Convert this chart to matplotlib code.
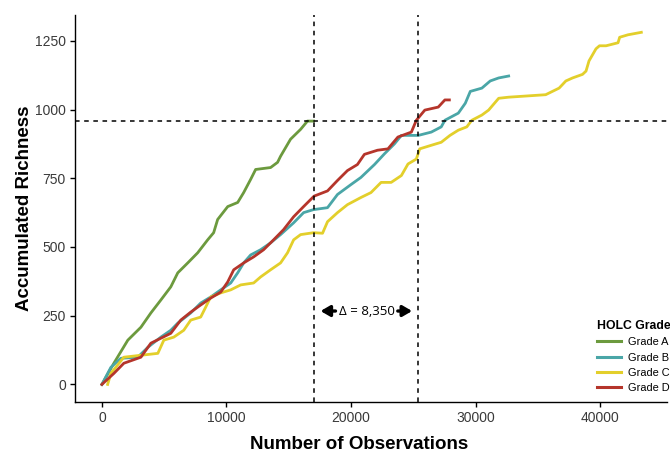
import matplotlib
matplotlib.use("Agg")
import matplotlib.pyplot as plt
from matplotlib.lines import Line2D

plt.rcParams['font.family'] = ['Liberation Sans', 'DejaVu Sans']

# ---- data ----
a_x = [0, 960, 2080, 3130, 3930, 4730, 5530, 6090, 6890, 7690, 8490, 8970, 9290, 10100,
       10900, 11380, 11940, 12340, 13540, 14100, 14340, 15140, 15950, 16500, 16990]
a_y = [0, 77, 161, 208, 260, 307, 355, 406, 442, 479, 526, 552, 600, 647,
       662, 698, 746, 782, 789, 808, 830, 892, 928, 958, 958]

b_x = [0, 720, 1520, 2880, 3690, 4730, 5530, 6090, 7130, 7930, 8730, 9540, 10340, 10900,
       11380, 11940, 12740, 13540, 14340, 15390, 16190, 16990, 18110, 18910, 19990, 20790,
       21880, 22680, 23480, 24040, 25400, 26440, 27240, 27530, 28610, 29170, 29570, 30500,
       31170, 31850, 32650]
b_y = [0, 62, 95, 99, 135, 172, 197, 223, 260, 296, 318, 344, 369, 406,
       442, 471, 490, 515, 545, 588, 625, 636, 643, 691, 727, 753,
       800, 839, 875, 906, 906, 918, 937, 961, 987, 1023, 1066, 1078,
       1104, 1115, 1122]

c_x = [460, 720, 1760, 3130, 4490, 4970, 5770, 6570, 7130, 7930, 8330, 8730, 9540, 10340,
       11140, 12180, 12740, 13540, 14340, 14900, 15390, 15950, 16990, 17710, 18110, 18910,
       19710, 20790, 21600, 22410, 23220, 24040, 24570, 25240, 25510, 26440, 27240, 27940,
       28610, 29290, 29690, 30500, 31040, 31850, 32650, 35620, 36700, 37240, 37780, 38580,
       38860, 39100, 39660, 39940, 40470, 41430, 41560, 42230, 43300]
c_y = [0, 40, 99, 106, 113, 161, 172, 197, 234, 245, 281, 318, 333, 344,
       362, 369, 391, 417, 442, 479, 526, 545, 552, 550, 592, 625,
       654, 680, 698, 735, 735, 760, 802, 820, 857, 870, 881, 906,
       925, 937, 961, 980, 998, 1041, 1045, 1054, 1078, 1104, 1115, 1128,
       1140, 1177, 1221, 1232, 1232, 1243, 1263, 1272, 1281]

d_x = [0, 960, 1760, 3130, 3930, 4730, 5530, 6330, 7130, 7930, 8730, 9540, 10100, 10580,
       11380, 12180, 12980, 13780, 14580, 15390, 16190, 17030, 18110, 18910, 19710, 20510,
       21070, 22120, 22960, 23760, 24840, 25240, 25920, 27000, 27530, 27890]
d_y = [0, 40, 77, 99, 150, 168, 186, 234, 263, 289, 314, 336, 373, 417,
       442, 464, 490, 526, 563, 610, 647, 685, 704, 742, 778, 800,
       837, 852, 857, 900, 918, 961, 998, 1009, 1035, 1035]

series = [("Grade A", a_x, a_y, "#6C9A3E"),
          ("Grade B", b_x, b_y, "#4AA6A7"),
          ("Grade C", c_x, c_y, "#E3CF2B"),
          ("Grade D", d_x, d_y, "#B5352B")]

vlines = [17050, 25400]
hline = 960
delta_label = "\u0394 = 8,350"
x_ticks = [0, 10000, 20000, 30000, 40000]
y_ticks = [0, 250, 500, 750, 1000, 1250]

# ---- figure ----
W, H = 670, 457
fig = plt.figure(figsize=(W / 100, H / 100), dpi=100)
ax = fig.add_axes([75 / W, 1 - 402 / H, (667 - 75) / W, (402 - 15) / H])

for name, xs, ys, col in series:
    ax.plot(xs, ys, color=col, lw=2.0, solid_joinstyle='round', label=name)

dash = (0, (3, 3))
for v in vlines:
    ax.axvline(v, color='black', lw=1.1, ls=dash)
ax.axhline(hline, color='black', lw=1.1, ls=dash)

# delta annotation
ymid = 267
ax.text(21240, ymid, delta_label, ha='center', va='center', fontsize=9.5,
        family=['Open Sans', 'DejaVu Sans'], color='black')
arrowprops = dict(arrowstyle='-|>,head_length=0.55,head_width=0.32', color='black', lw=2.4,
                  shrinkA=0, shrinkB=0)
ax.annotate('', xy=(17550, ymid), xytext=(18750, ymid), arrowprops=arrowprops)
ax.annotate('', xy=(24900, ymid), xytext=(23750, ymid), arrowprops=arrowprops)

ax.set_xlim(-2160, 45360)
ax.set_ylim(-64, 1344)
ax.set_xticks(x_ticks)
ax.set_yticks(y_ticks)
ax.tick_params(axis='both', direction='out', length=3.5, width=1, color='black',
               labelsize=10, labelcolor='#3a3a3a', pad=3)
for s in ['top', 'right']:
    ax.spines[s].set_visible(False)
for s in ['left', 'bottom']:
    ax.spines[s].set_linewidth(1)

ax.set_xlabel("Number of Observations", fontsize=13.5, fontweight='bold')
ax.set_ylabel("Accumulated Richness", fontsize=13.5, fontweight='bold')
ax.xaxis.set_label_coords((359 - 75) / (667 - 75), -(436 - 402) / (402 - 15))
ax.yaxis.set_label_coords(-(75 - 33) / (667 - 75), 0.5)

handles = [Line2D([], [], color=col, lw=2.2) for _, _, _, col in series]
labels = [n for n, _, _, _ in series]
leg = ax.legend(handles, labels, title="HOLC Grade", loc='upper left',
                bbox_to_anchor=(597 / W, 1 - 320 / H), bbox_transform=fig.transFigure,
                frameon=False, fontsize=7.9, title_fontproperties={'weight': 'bold', 'size': 8.8},
                handlelength=2.15, handletextpad=0.7, labelspacing=0.48,
                borderpad=0, borderaxespad=0, alignment='left')

fig.savefig("out.png", dpi=100)
